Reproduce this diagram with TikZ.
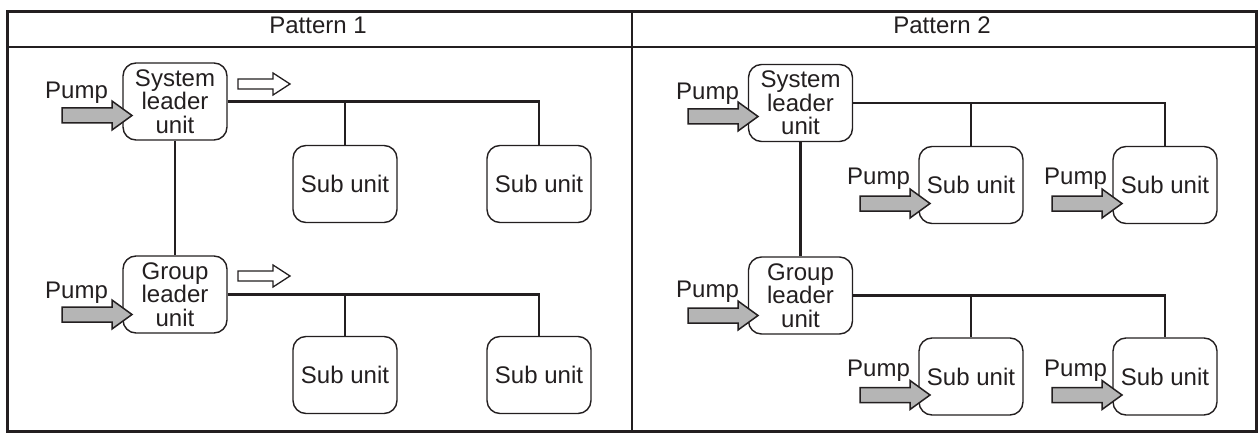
\documentclass[tikz,border=0pt]{standalone}
\usepackage{fontspec}
\setmainfont{Liberation Sans}
\definecolor{ink}{HTML}{231F20}
\definecolor{pumpfill}{HTML}{B5B5B5}
\begin{document}
\begin{tikzpicture}[x=1pt,y=-1pt,
  every node/.style={font=\fontsize{24}{23.5}\selectfont, text=ink},
  unitbox/.style={draw=ink, line width=1.4pt, rounded corners=13pt, fill=white,
    minimum width=104pt, minimum height=77pt, inner sep=0pt, align=center},
  frameline/.style={draw=ink, line width=2.8pt},
  link/.style={draw=ink, line width=2.8pt},
  pumparrow/.style={draw=ink, line width=1.5pt, fill=pumpfill, line join=miter},
  flowarrow/.style={draw=ink, line width=1.3pt, fill=white, line join=miter},
  pumplabel/.style={anchor=base west, inner sep=0pt}
]
\useasboundingbox (0,0) rectangle (1258,433);

% table frame
\draw[frameline] (7.5,11.5) rectangle (1256.5,431.5);
\draw[frameline] (7.5,47) -- (1256.5,47);
\draw[frameline] (632,11.5) -- (632,431.5);
\node[anchor=base, inner sep=0pt] (h1) at (318,33.5) {Pattern 1};
\node[anchor=base, inner sep=0pt] (h2) at (942,33.5) {Pattern 2};

% ---------- Pattern 1 ----------
\node[unitbox] (s1) at (175,101.5) {System\\leader\\unit};
\node[unitbox] (g1) at (175,294.5) {Group\\leader\\unit};
\node[unitbox] (a1) at (345,184) {Sub unit};
\node[unitbox] (b1) at (539,184) {Sub unit};
\node[unitbox] (c1) at (345,375) {Sub unit};
\node[unitbox] (d1) at (539,375) {Sub unit};

\draw[link] (s1.east) -- (s1.east -| b1.north) -- (b1.north);
\draw[link] (s1.east -| a1.north) -- (a1.north);
\draw[link] (g1.east) -- (g1.east -| d1.north) -- (d1.north);
\draw[link] (g1.east -| c1.north) -- (c1.north);
\draw[link] (s1.south) -- (g1.north);

% hollow flow arrows
\coordinate (f1) at (290,84);
\coordinate (f2) at (290,276);
\foreach \c in {f1,f2}{
  \draw[flowarrow] (\c) -- ++(-17,-11) -- ++(0,6) -- ++(-35,0) -- ++(0,10)
    -- ++(35,0) -- ++(0,6) -- cycle;
}

% ---------- Pattern 2 ----------
\node[unitbox] (s2) at (800.5,103) {System\\leader\\unit};
\node[unitbox] (g2) at (800.5,295.5) {Group\\leader\\unit};
\node[unitbox] (a2) at (971,185) {Sub unit};
\node[unitbox] (b2) at (1165,185) {Sub unit};
\node[unitbox] (c2) at (971,376.5) {Sub unit};
\node[unitbox] (d2) at (1165,376.5) {Sub unit};

\draw[link] (s2.east) -- (s2.east -| b2.north) -- (b2.north);
\draw[link] (s2.east -| a2.north) -- (a2.north);
\draw[link] (g2.east) -- (g2.east -| d2.north) -- (d2.north);
\draw[link] (g2.east -| c2.north) -- (c2.north);
\draw[link] (s2.south) -- (g2.north);

% pump arrows (tips)
\coordinate (p1) at (132,115.5);
\coordinate (p2) at (132,314.5);
\coordinate (p3) at (758,116.5);
\coordinate (p4) at (758,315.5);
\coordinate (p5) at (930,203.5);
\coordinate (p6) at (1122,203.5);
\coordinate (p7) at (930,395);
\coordinate (p8) at (1122,395);
\foreach \c in {p1,p2,p3,p4,p5,p6,p7,p8}{
  \draw[pumparrow] (\c) -- ++(-20,-14.5) -- ++(0,7) -- ++(-50,0) -- ++(0,15)
    -- ++(50,0) -- ++(0,7) -- cycle;
}

% pump labels
\node[pumplabel] (l1) at (45,99) {Pump};
\node[pumplabel] (l2) at (45,298) {Pump};
\node[pumplabel] (l3) at (676,100) {Pump};
\node[pumplabel] (l4) at (676,297) {Pump};
\node[pumplabel] (l5) at (847,184) {Pump};
\node[pumplabel] (l6) at (1044,184) {Pump};
\node[pumplabel] (l7) at (847,376) {Pump};
\node[pumplabel] (l8) at (1044,376) {Pump};
\end{tikzpicture}
\end{document}
